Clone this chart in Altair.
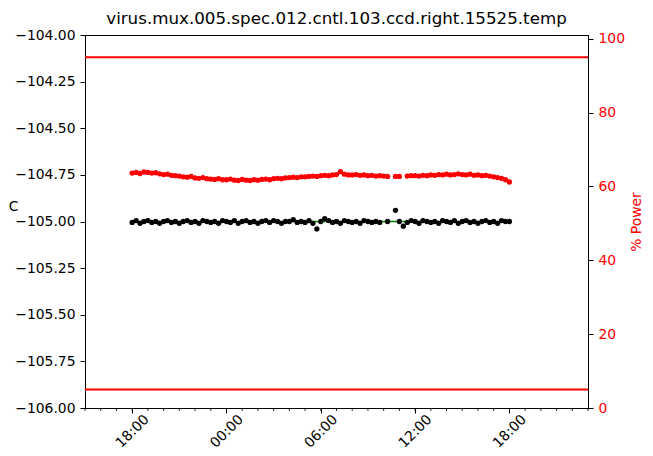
import altair as alt
import pandas as pd

chart_title = "virus.mux.005.spec.012.cntl.103.ccd.right.15525.temp"

# samples every 15 min, first at 18:00 (hour offset 0) through 18:00 next day (offset 24)
step_h = 0.25
first_clock_hour = 18

temp_c = [
    -105.005, -104.995, -105.010, -105.000,   # 18h
    -104.995, -105.005, -105.000, -105.010,   # 19h
    -105.000, -104.995, -105.005, -105.000,   # 20h
    -105.010, -105.000, -104.995, -105.005,   # 21h
    -105.000, -105.010, -104.995, -105.000,   # 22h
    -105.005, -105.000, -105.010, -104.995,   # 23h
    -105.000, -105.005, -104.995, -105.010,   # 00h
    -105.000, -104.995, -105.005, -105.000,   # 01h
    -105.010, -105.000, -104.995, -105.005,   # 02h
    -104.995, -105.000, -105.010, -105.000,   # 03h
    -105.000, -104.990, -105.005, -105.000,   # 04h
    -105.005, -104.995, -105.010, -105.040,   # 05h
    -105.000, -104.985, -104.995, -105.005,   # 06h
    -105.000, -105.010, -104.995, -105.000,   # 07h
    -105.005, -105.000, -105.010, -104.995,   # 08h
    -105.000, -105.005, -105.000, -105.005,   # 09h
    None, -105.000, None, -104.940,           # 10h
    -105.000, -105.025, -105.005, -104.995,   # 11h
    -105.000, -105.010, -104.995, -105.000,   # 12h
    -105.005, -105.000, -105.010, -104.995,   # 13h
    -105.000, -105.005, -104.995, -105.010,   # 14h
    -105.000, -104.995, -105.005, -105.000,   # 15h
    -105.010, -105.000, -104.995, -105.005,   # 16h
    -105.000, -105.010, -104.995, -105.000,   # 17h
    -105.000,                                 # 18h
]

power_pct = [
    63.6, 63.8, 63.5, 63.9,   # 18h
    63.8, 63.6, 63.7, 63.4,   # 19h
    63.2, 63.3, 63.0, 62.9,   # 20h
    62.8, 62.6, 62.5, 62.7,   # 21h
    62.3, 62.2, 62.4, 62.1,   # 22h
    62.0, 61.9, 62.1, 61.8,   # 23h
    61.8, 62.0, 61.7, 61.6,   # 00h
    61.9, 61.7, 61.6, 61.8,   # 01h
    61.7, 61.9, 62.0, 61.8,   # 02h
    62.1, 62.2, 62.1, 62.3,   # 03h
    62.4, 62.5, 62.4, 62.6,   # 04h
    62.6, 62.7, 62.8, 62.7,   # 05h
    62.9, 63.0, 62.9, 63.1,   # 06h
    63.2, 64.0, 63.3, 63.1,   # 07h
    63.1, 63.2, 63.0, 63.1,   # 08h
    62.9, 63.0, 62.8, 62.9,   # 09h
    62.8, 62.7, None, 62.7,   # 10h
    62.7, None, 62.8, 62.9,   # 11h
    62.9, 62.8, 63.0, 62.9,   # 12h
    63.1, 63.0, 63.2, 63.1,   # 13h
    63.3, 63.1, 63.2, 63.4,   # 14h
    63.2, 63.1, 63.3, 63.0,   # 15h
    63.1, 62.9, 63.0, 62.8,   # 16h
    62.6, 62.4, 62.2, 61.8,   # 17h
    61.2,                     # 18h
]

setpoint_hours = [0, 24]
setpoint_c = [-105.0, -105.0]
limit_pct = [5, 95]

x_domain = [-3, 29]            # 15:00 .. 23:00 next day
major_hours = [0, 6, 12, 18, 24]
minor_hours = [h for h in range(-3, 30)]
temp_ticks = [-104.0, -104.25, -104.5, -104.75, -105.0, -105.25, -105.5, -105.75, -106.0]
power_ticks = [0, 20, 40, 60, 80, 100]

FONT = "DejaVu Sans"
FS = 13.9

df = pd.DataFrame({
    "t": [i * step_h for i in range(len(temp_c))],
    "temp": temp_c,
    "power": power_pct,
})
sp_df = pd.DataFrame({"t": setpoint_hours, "temp": setpoint_c})
lim_df = pd.DataFrame({"power": limit_pct})
minor_df = pd.DataFrame({"t": minor_hours})

x_scale = alt.Scale(domain=x_domain, nice=False, zero=False)
x_axis = alt.Axis(
    values=major_hours,
    labelExpr="(((datum.value + %d) %% 24) < 10 ? '0' : '') + ((datum.value + %d) %% 24) + ':00'"
    % (first_clock_hour, first_clock_hour),
    title=None, labelAngle=315, labelAlign="center", labelBaseline="middle",
    labelPadding=18, tickSize=5, grid=False, labelFont=FONT, labelFontSize=FS,
    labelColor="black", domainColor="black", tickColor="black",
)
X = alt.X("t:Q", scale=x_scale, axis=x_axis)

temp_scale = alt.Scale(domain=[-106, -104], nice=False, zero=False)
temp_axis = alt.Axis(
    values=temp_ticks, format=".2f", title="C", titleAngle=0,
    titleX=-72, titleY=171, titleAlign="center", titleBaseline="middle",
    titleFontWeight="normal", titleFontSize=FS, titleFont=FONT, titleColor="black",
    grid=False, tickSize=5, labelPadding=5, labelFont=FONT, labelFontSize=FS,
    labelColor="black", domainColor="black", tickColor="black",
)
power_scale = alt.Scale(domain=[0, 101], nice=False, zero=True)
power_axis = alt.Axis(
    orient="right", values=power_ticks, title="% Power", titleColor="red",
    labelColor="red", titleAngle=270, titleX=48, titleY=186.5,
    titleAlign="center", titleBaseline="middle", titleFontWeight="normal",
    titleFontSize=FS, titleFont=FONT, grid=False, tickSize=5, labelPadding=5,
    labelFont=FONT, labelFontSize=FS, domainColor="black", tickColor="black",
)

green = alt.Chart(sp_df).mark_line(color="green", strokeWidth=1.5).encode(
    x=X, y=alt.Y("temp:Q", scale=temp_scale, axis=temp_axis)
)
black = alt.Chart(df).mark_circle(color="black", size=28, opacity=1).encode(
    x=X, y=alt.Y("temp:Q", scale=temp_scale, axis=temp_axis)
)
temp_layer = alt.layer(green, black)

limits = alt.Chart(lim_df).mark_rule(color="red", strokeWidth=2).encode(
    y=alt.Y("power:Q", scale=power_scale, axis=power_axis)
)
red = alt.Chart(df).mark_circle(color="red", size=28, opacity=1).encode(
    x=X, y=alt.Y("power:Q", scale=power_scale, axis=power_axis)
)
power_layer = alt.layer(limits, red)

minor = alt.Chart(minor_df).mark_rule(color="black", strokeWidth=0.8).encode(
    x=X, y=alt.value(373), y2=alt.value(376)
)

chart = (
    alt.layer(temp_layer, power_layer, minor)
    .resolve_scale(y="independent")
    .properties(
        width=503, height=373,
        background="white",
        title=alt.TitleParams(chart_title, fontSize=16.7, font=FONT,
                              fontWeight="normal", anchor="middle", offset=0, color="black"),
        autosize=alt.AutoSizeParams(type="none"),
        padding={"left": 77, "top": 27, "right": 55, "bottom": 46},
    )
    .configure_view(stroke="black", strokeWidth=1)
    .configure_axis(domainWidth=1, tickWidth=1)
)

chart.save("out.html", embed_options={"renderer": "svg", "actions": False})
